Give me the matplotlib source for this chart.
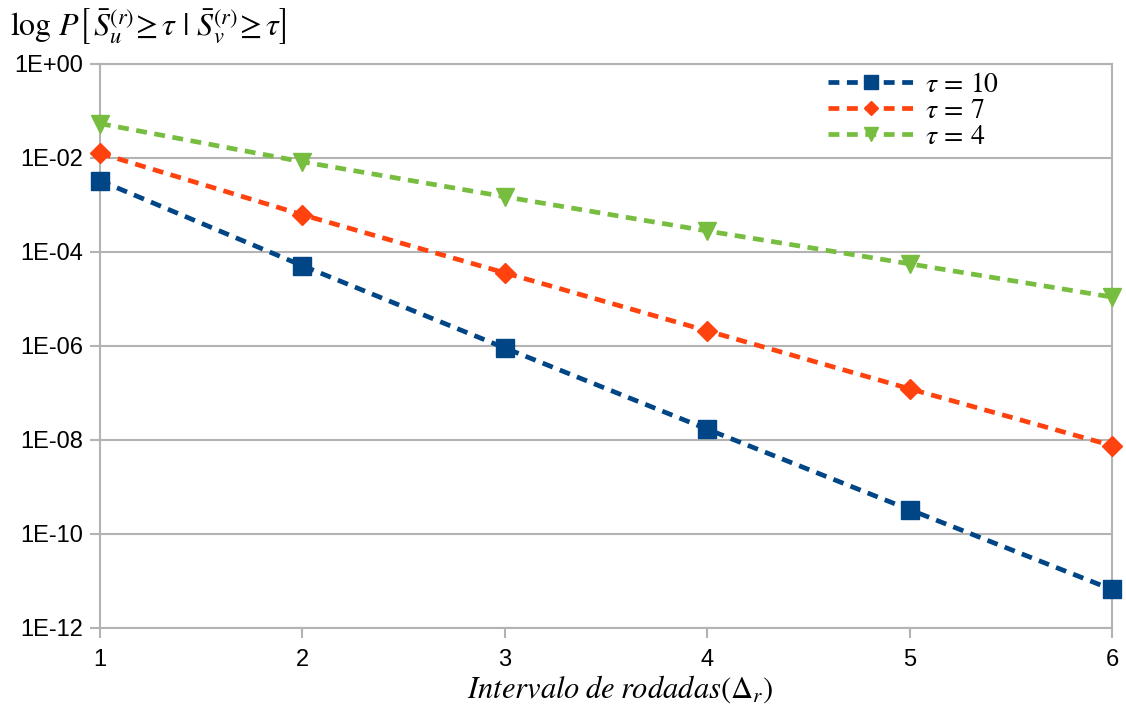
import matplotlib
matplotlib.use("Agg")
import matplotlib.pyplot as plt
from matplotlib.ticker import FixedLocator, FixedFormatter

plt.rcParams['font.family'] = ['Liberation Sans', 'DejaVu Sans']
plt.rcParams['mathtext.fontset'] = 'stix'

intervals = [1, 2, 3, 4, 5, 6]
tau10 = [3.3e-3, 5.1e-5, 9.1e-7, 1.7e-8, 3.3e-10, 6.6e-12]
tau7 = [1.26e-2, 6.2e-4, 3.6e-5, 2.1e-6, 1.23e-7, 7.6e-9]
tau4 = [5.4e-2, 8.3e-3, 1.5e-3, 2.8e-4, 5.6e-5, 1.1e-5]
series_labels = [r'$\tau\,=\,10$', r'$\tau\,=\,7$', r'$\tau\,=\,4$']
ytick_vals = [1e0, 1e-2, 1e-4, 1e-6, 1e-8, 1e-10, 1e-12]
ytick_labels = ['1E+00', '1E-02', '1E-04', '1E-06', '1E-08', '1E-10', '1E-12']

W, H = 1126, 711
fig = plt.figure(figsize=(W / 100, H / 100), dpi=100)
ax = fig.add_axes([100 / W, 1 - 628 / H, (1112 - 100) / W, (628 - 64) / H])

grid_c = '#b3b3b3'
styles = [
    dict(color='#004586', marker='s', ms=13.5),
    dict(color='#ff420e', marker='D', ms=10),
    dict(color='#77bd3f', marker='v', ms=13.5),
]
for ys, lab, st in zip([tau10, tau7, tau4], series_labels, styles):
    ax.plot(intervals, ys, color=st['color'], marker=st['marker'], ms=st['ms'],
            mec=st['color'], lw=3.4, linestyle=(0, (2.3, 1.6)), label=lab,
            clip_on=False, zorder=3)

ax.set_yscale('log')
ax.set_ylim(1e-12, 1e0)
ax.set_xlim(1, 6)
ax.yaxis.set_major_locator(FixedLocator(ytick_vals))
ax.yaxis.set_major_formatter(FixedFormatter(ytick_labels))
ax.yaxis.set_minor_locator(FixedLocator([]))
ax.set_xticks(intervals)
ax.set_xticklabels([str(i) for i in intervals])
ax.grid(axis='y', color=grid_c, lw=1.5)
ax.set_axisbelow(True)
for s in ax.spines.values():
    s.set_color(grid_c)
    s.set_linewidth(1.5)
ax.tick_params(axis='both', which='major', length=7, width=1.5, color=grid_c,
               labelsize=17, labelcolor='black')
ax.tick_params(axis='x', pad=8)
ax.tick_params(axis='y', pad=5)

ax.text(10 / W, 1 - 36 / H,
        r'$\log\,P\left[\,\bar{S}_u^{(r)}\!\geq\tau\ |\ \bar{S}_v^{(r)}\!\geq\tau\right]$',
        transform=fig.transFigure, fontsize=23, ha='left', va='baseline')

fig.text(620 / W, 1 - 698 / H, r'$Intervalo\;de\;rodadas\left(\Delta_r\right)$',
         fontsize=22, ha='center', va='baseline')

leg = ax.legend(loc='upper left', bbox_to_anchor=(814 / W, 1 - 58 / H),
                bbox_transform=fig.transFigure, frameon=False, fontsize=20,
                handlelength=3.1, handletextpad=0.4, labelspacing=0.0,
                markerscale=0.7, borderpad=0.0)

fig.savefig('out.png', dpi=100)
